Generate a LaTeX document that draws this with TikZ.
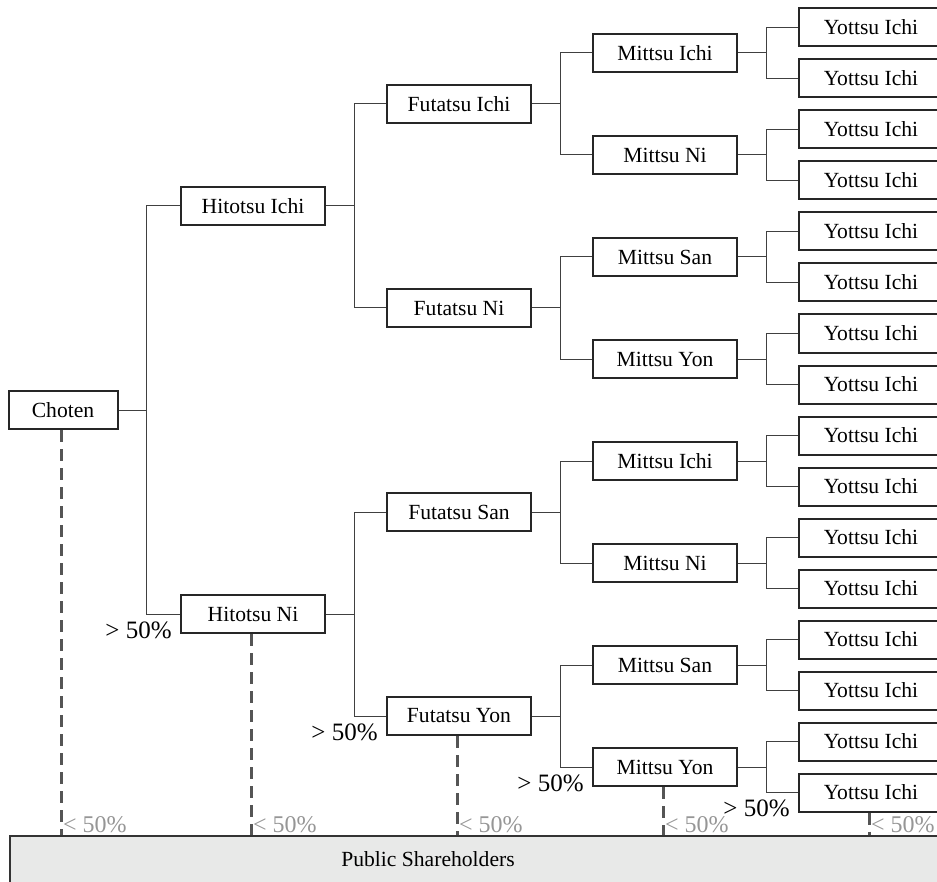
\documentclass[tikz,border=0pt]{standalone}
\usepackage{fontspec}
\setmainfont{Liberation Serif}
\usepackage{tikz}
\usetikzlibrary{trees}

\definecolor{barfill}{RGB}{232,233,232}
\definecolor{dashgray}{RGB}{85,85,85}
\definecolor{labelgray}{RGB}{150,150,150}

\tikzset{
  firm/.style={draw=black!85, line width=1pt, fill=white, minimum width=72pt,
    minimum height=19pt, inner sep=2pt},
  bar/.style={draw=black!80, line width=0.8pt, fill=barfill, inner sep=0pt},
  minority/.style={draw=dashgray, line width=1.5pt, dash pattern=on 6pt off 3.5pt},
  lessthan/.style={anchor=south west, inner sep=0.8pt, text=labelgray,
    font=\fontsize{12}{14}\selectfont},
  morethan/.style={anchor=east, inner sep=1pt, font=\fontsize{12.5}{14}\selectfont}
}

\begin{document}
\begin{tikzpicture}[x=0.5pt, y=-0.5pt, grow'=right,
  font=\fontsize{10.8}{12}\selectfont,
  level/.style={sibling distance=408pt/2^#1, level distance=103pt},
  level 1/.style={level distance=95pt},
  every child node/.style={firm},
  edge from parent/.style={draw=black!75, line width=0.5pt},
  edge from parent path={(\tikzparentnode.east) -- ([xshift=14pt]\tikzparentnode.east) |- (\tikzchildnode.west)}]
\useasboundingbox (0,0) rectangle (937,882);

\node[firm, minimum width=54.5pt] (ch) at (63,410) {Choten}
  child {node (h1) {Hitotsu Ichi}
    child {node (f1) {Futatsu Ichi}
      child {node (m1) {Mittsu Ichi}
        child {node (y1) {Yottsu Ichi}}
        child {node (y2) {Yottsu Ichi}}
      }
      child {node (m2) {Mittsu Ni}
        child {node (y3) {Yottsu Ichi}}
        child {node (y4) {Yottsu Ichi}}
      }
    }
    child {node (f2) {Futatsu Ni}
      child {node (m3) {Mittsu San}
        child {node (y5) {Yottsu Ichi}}
        child {node (y6) {Yottsu Ichi}}
      }
      child {node (m4) {Mittsu Yon}
        child {node (y7) {Yottsu Ichi}}
        child {node (y8) {Yottsu Ichi}}
      }
    }
  }
  child {node (h2) {Hitotsu Ni}
    child {node (f3) {Futatsu San}
      child {node (m5) {Mittsu Ichi}
        child {node (y9) {Yottsu Ichi}}
        child {node (y10) {Yottsu Ichi}}
      }
      child {node (m6) {Mittsu Ni}
        child {node (y11) {Yottsu Ichi}}
        child {node (y12) {Yottsu Ichi}}
      }
    }
    child {node (f4) {Futatsu Yon}
      child {node (m7) {Mittsu San}
        child {node (y13) {Yottsu Ichi}}
        child {node (y14) {Yottsu Ichi}}
      }
      child {node (m8) {Mittsu Yon}
        child {node (y15) {Yottsu Ichi}}
        child {node (y16) {Yottsu Ichi}}
      }
    }
  };

\node[bar, anchor=north west, minimum width=470pt, minimum height=25pt] (pub) at (9,835) {};
\node (pubtext) at (428,859) {Public Shareholders};

\foreach \n in {ch,h2,f4,m8,y16} {
  \draw[minority] ([xshift=-1pt]\n.south) -- ([xshift=-1pt]\n.south |- pub.north);
  \node[lessthan] at ([xshift=-1pt]\n.south |- pub.north) {< 50\%};
}
\foreach \n in {h2,f4,m8,y16}
  \node[morethan] at ([xshift=-3pt, yshift=2pt]\n.south west) {> 50\%};
\end{tikzpicture}
\end{document}
